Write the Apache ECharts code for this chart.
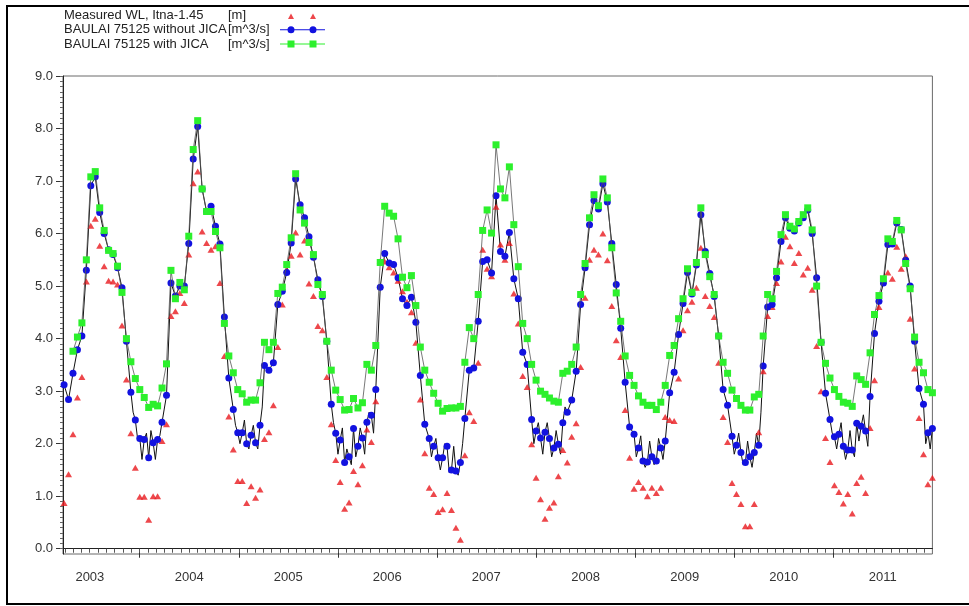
<!DOCTYPE html>
<html>
<head>
<meta charset="utf-8">
<script src="https://cdn.jsdelivr.net/npm/echarts@6/dist/echarts.min.js"></script>
<style>
html,body{margin:0;padding:0;background:#fff;}
#chart{width:969px;height:606px;}
</style>
</head>
<body>
<div id="chart"></div>
<script>
// ---------------- data ----------------
const seriesNames = ['Measured WL, Itna-1.45', 'BAULAI 75125 without JICA', 'BAULAI 75125 with JICA'];
const seriesUnits = ['[m]', '[m^3/s]', '[m^3/s]'];
const yearLabels = [2003, 2004, 2005, 2006, 2007, 2008, 2009, 2010, 2011];
const yTickLabels = [0, 1, 2, 3, 4, 5, 6, 7, 8, 9];

// sampling: regular interval from first to last observation date
const firstDate = [2003, 2, 29];
const lastDate = [2012, 0, 1];

const measuredWL = [
  0.87, 1.42, 2.18, 2.88, 3.27, 5.09, 6.15, 6.28, 5.77, 5.38,
  5.10, 5.09, 5.03, 4.25, 3.22, 2.20, 1.54, 0.99, 0.99, 0.55,
  1.00, 1.00, 2.05, 2.37, 4.43, 4.52, 4.87, 4.68, 5.60, 6.96,
  7.18, 6.04, 5.82, 5.69, 5.76, 5.06, 3.67, 2.52, 1.89, 1.29,
  1.29, 0.87, 1.19, 0.97, 1.13, 2.09, 2.22, 2.73, 3.84, 4.65,
  5.31, 5.58, 6.02, 5.60, 5.87, 5.05, 4.81, 4.24, 4.16, 3.27,
  2.37, 1.69, 1.27, 0.76, 0.88, 1.48, 1.23, 1.59, 2.27, 2.03,
  2.81, 5.48, 5.47, 5.36, 5.26, 5.10, 4.90, 4.70, 4.50, 3.92,
  2.84, 1.82, 1.16, 1.04, 0.70, 0.75, 1.06, 0.74, 0.40, 0.17,
  1.78, 2.60, 2.43, 3.54, 5.69, 5.33, 5.19, 6.51, 5.79, 5.50,
  5.82, 4.86, 4.29, 3.29, 3.08, 1.99, 1.35, 0.94, 0.57, 0.78,
  0.88, 1.38, 1.88, 1.64, 2.13, 2.39, 3.46, 4.78, 5.50, 5.69,
  5.60, 6.00, 5.49, 4.62, 3.97, 3.65, 2.64, 1.73, 1.14, 1.27,
  1.16, 1.00, 1.16, 1.06, 1.16, 2.51, 2.45, 2.43, 3.24, 4.16,
  4.54, 4.70, 4.97, 5.73, 4.81, 4.62, 4.41, 3.54, 2.51, 2.03,
  1.25, 1.04, 0.85, 0.43, 0.43, 0.85, 2.22, 3.38, 4.43, 4.60,
  5.06, 5.47, 5.94, 5.76, 5.44, 5.63, 5.22, 5.35, 4.93, 3.86,
  3.00, 2.11, 1.65, 1.21, 1.08, 0.86, 1.04, 0.67, 1.25, 1.37,
  1.06, 2.30, 3.21, 4.60, 5.10, 5.26, 5.14, 5.75, 5.33, 5.57,
  4.38, 3.43, 2.49, 1.80, 1.23, 1.35
];

const withoutJICA = [
  3.12, 2.84, 3.34, 3.79, 4.05, 5.30, 6.91, 7.08, 6.40, 6.00,
  5.69, 5.60, 5.35, 4.97, 3.95, 2.98, 2.45, 2.10, 2.08, 1.73,
  2.02, 2.08, 2.41, 2.92, 5.06, 4.81, 5.00, 5.00, 5.81, 7.42,
  8.04, 6.85, 6.42, 6.52, 6.14, 5.80, 4.41, 3.25, 2.65, 2.21,
  2.21, 2.00, 2.16, 2.02, 2.35, 3.49, 3.40, 3.54, 4.65, 4.90,
  5.26, 5.82, 7.04, 6.55, 6.30, 5.94, 5.55, 5.12, 4.80, 3.95,
  2.75, 2.20, 2.07, 1.64, 1.75, 2.29, 1.95, 2.11, 2.41, 2.54,
  3.03, 4.98, 5.62, 5.44, 5.41, 5.16, 4.76, 4.63, 4.79, 4.31,
  3.30, 2.37, 2.10, 1.95, 1.73, 1.73, 1.95, 1.50, 1.48, 1.64,
  2.48, 3.40, 3.44, 4.33, 5.47, 5.50, 5.25, 6.72, 5.66, 5.57,
  6.02, 5.14, 4.76, 3.74, 3.51, 2.46, 2.24, 2.11, 2.22, 2.10,
  1.92, 1.99, 2.40, 2.60, 2.83, 3.38, 4.65, 5.35, 6.17, 6.63,
  6.47, 6.95, 6.60, 5.81, 5.03, 4.20, 3.17, 2.32, 2.18, 1.92,
  1.67, 1.65, 1.75, 1.67, 1.92, 2.05, 2.97, 3.36, 4.08, 4.67,
  5.26, 4.85, 5.40, 6.36, 5.66, 5.24, 4.80, 4.05, 3.03, 2.73,
  2.14, 1.97, 1.83, 1.64, 1.75, 1.83, 1.97, 3.48, 4.60, 4.65,
  5.16, 5.85, 6.30, 6.10, 6.05, 6.20, 6.30, 6.45, 6.00, 5.16,
  3.93, 2.96, 2.46, 2.13, 2.18, 1.95, 1.88, 1.88, 2.39, 2.33,
  2.24, 2.90, 4.10, 4.71, 5.06, 5.79, 5.80, 6.20, 6.08, 5.49,
  5.00, 3.95, 3.05, 2.75, 2.21, 2.29
];

// extra readings of the fluctuating (daily) line between samples: [sample position, value]
const withoutJICAFluctuation = [
  [15.5, 2.60], [16.5, 2.10], [17.5, 1.70], [18.5, 2.20], [19.5, 2.25], [20.5, 1.70], [21.5, 2.15],
  [38.5, 2.35], [39.5, 2.00], [40.5, 2.45], [41.5, 1.90], [42.5, 2.35], [43.5, 1.90], [44.5, 2.70],
  [60.5, 2.40], [61.5, 1.80], [62.5, 2.30], [63.5, 1.90], [64.5, 1.60], [65.5, 1.75], [66.5, 2.30], [67.5, 1.80], [68.5, 2.60], [69.5, 2.20],
  [82.5, 1.75], [83.5, 2.10], [84.5, 1.50], [85.5, 2.00], [86.5, 1.45], [87.5, 1.95], [88.5, 1.40], [89.5, 2.00],
  [105.5, 2.00], [106.5, 2.40], [107.5, 1.80], [108.5, 2.40], [109.5, 1.75], [110.5, 2.25], [111.5, 1.80], [112.5, 2.70],
  [128.5, 1.75], [129.5, 2.15], [130.5, 1.55], [131.5, 2.05], [132.5, 1.60], [133.5, 2.10], [134.5, 1.70],
  [150.5, 1.80], [151.5, 2.20], [152.5, 1.60], [153.5, 2.05], [154.5, 1.55], [155.5, 2.20], [156.5, 2.60],
  [172.5, 2.20], [173.5, 1.90], [174.5, 2.40], [175.5, 1.70], [176.5, 2.25], [177.5, 1.75], [178.5, 2.05], [179.5, 2.55], [180.5, 1.95],
  [193.5, 2.00], [194.5, 1.90]
];

const withJICA = [
  null, null, 3.76, 4.03, 4.30, 5.50, 7.08, 7.18, 6.49, 6.06,
  5.68, 5.62, 5.38, 4.88, 4.00, 3.56, 3.24, 3.03, 2.88, 2.69,
  2.75, 2.72, 3.06, 3.52, 5.30, 4.76, 5.07, 4.93, 5.95, 7.60,
  8.15, 6.85, 6.42, 6.42, 6.04, 5.73, 4.29, 3.67, 3.35, 3.03,
  2.95, 2.79, 2.83, 2.83, 3.16, 3.93, 3.79, 3.93, 4.86, 4.98,
  5.41, 5.92, 7.14, 6.45, 6.20, 5.83, 5.60, 5.03, 4.84, 3.95,
  3.40, 3.02, 2.84, 2.64, 2.65, 2.86, 2.68, 2.78, 3.51, 3.40,
  3.87, 5.45, 6.52, 6.39, 6.33, 5.90, 5.17, 4.97, 5.20, 4.63,
  3.84, 3.40, 3.17, 2.96, 2.77, 2.62, 2.67, 2.68, 2.68, 2.71,
  3.55, 4.21, 4.00, 4.84, 6.06, 6.45, 6.01, 7.69, 6.85, 6.68,
  7.27, 6.17, 5.37, 4.29, 4.00, 3.51, 3.21, 3.00, 2.94, 2.87,
  2.81, 2.79, 3.34, 3.38, 3.51, 3.84, 4.84, 5.43, 6.30, 6.74,
  6.53, 7.04, 6.68, 5.73, 4.87, 4.33, 3.67, 3.30, 3.11, 2.91,
  2.79, 2.73, 2.73, 2.65, 2.79, 3.11, 3.68, 3.87, 4.38, 4.76,
  5.33, 4.88, 5.45, 6.49, 5.60, 5.18, 4.84, 4.05, 3.55, 3.34,
  3.02, 2.86, 2.73, 2.64, 2.64, 2.89, 2.94, 4.05, 4.84, 4.76,
  5.28, 5.98, 6.36, 6.14, 6.09, 6.23, 6.36, 6.49, 6.07, 5.00,
  3.93, 3.53, 3.25, 3.03, 2.90, 2.79, 2.77, 2.71, 3.29, 3.22,
  3.13, 3.73, 4.46, 4.82, 5.14, 5.90, 5.85, 6.25, 6.07, 5.43,
  4.95, 4.03, 3.55, 3.35, 3.03, 2.97
];

// ---------------- build ----------------
const FONT = '"Liberation Sans", Arial, sans-serif';
const t0 = Date.UTC.apply(null, firstDate);
const t1 = Date.UTC.apply(null, lastDate);
const nSamples = measuredWL.length;
const dateAt = pos => t0 + (t1 - t0) * pos / (nSamples - 1);
const dates = measuredWL.map((_, i) => dateAt(i));
const xMin = Date.UTC(2003, 2, 25);
const xMax = Date.UTC(2012, 0, 1);

const yearTicks = yearLabels.slice(1).map(y => Date.UTC(y, 0, 1));
const yearLabelPos = yearLabels.map(y => Date.UTC(y, 6, 2));
const monthTicks = [];
yearLabels.forEach(y => { for (let m = 0; m < 12; m++) { const t = Date.UTC(y, m, 1); if (t > xMin && t < xMax) monthTicks.push(t); } });
const yMinorTicks = [];
for (let i = 0; i <= 90; i++) yMinorTicks.push(i / 10);

const pair = arr => arr.map((v, i) => [dates[i], v]);
const detailLine = withoutJICA.map((v, i) => [i, v])
  .concat(withoutJICAFluctuation)
  .sort((a, b) => a[0] - b[0])
  .map(p => [dateAt(p[0]), p[1]]);

const EXT = 'M0,0L0,0.01M45,9L45,8.99';
const iconRed = 'path://' + EXT + 'M8,8L11,2.5L14,8ZM30,8L33,2.5L36,8Z';
const iconBlue = 'path://' + EXT + 'M0,4L45,4L45,5L0,5Z' +
  'M14.5,4.5A3.5,3.5,0,1,1,7.5,4.5A3.5,3.5,0,1,1,14.5,4.5Z' +
  'M36.5,4.5A3.5,3.5,0,1,1,29.5,4.5A3.5,3.5,0,1,1,36.5,4.5Z';
const iconGreen = 'path://' + EXT + 'M0,4L45,4L45,5L0,5Z' +
  'M7.5,1L14.5,1L14.5,8L7.5,8Z' +
  'M29.5,1L36.5,1L36.5,8L29.5,8Z';

const RED = '#e8191e', BLUE = '#1212e0', GREEN = '#2cf02c';

const chart = echarts.init(document.getElementById('chart'), null, { renderer: 'canvas' });
chart.setOption({
  animation: false,
  backgroundColor: '#ffffff',
  textStyle: { fontFamily: FONT },
  graphic: [{
    type: 'rect', silent: true, z: 100,
    shape: { x: 7, y: 6, width: 1000, height: 598 },
    style: { fill: 'none', stroke: '#000', lineWidth: 2 }
  }],
  legend: {
    left: 64, top: 9, padding: 0, orient: 'vertical', align: 'right',
    itemGap: 1.3, itemWidth: 45, itemHeight: 9, selectedMode: false,
    itemStyle: { borderWidth: 0 },
    symbolKeepAspect: true,
    data: [
      { name: seriesNames[0], icon: iconRed },
      { name: seriesNames[1], icon: iconBlue },
      { name: seriesNames[2], icon: iconGreen }
    ],
    formatter: name => '{a|' + name + '}{b|' + seriesUnits[seriesNames.indexOf(name)] + '}',
    textStyle: {
      fontFamily: FONT, fontSize: 13, color: '#222',
      rich: {
        a: { width: 164, align: 'left', fontFamily: FONT, fontSize: 13, color: '#222' },
        b: { width: 47, align: 'left', fontFamily: FONT, fontSize: 13, color: '#222' }
      }
    }
  },
  grid: {
    left: 63, right: 36.6, top: 76, bottom: 52,
    show: true, borderColor: '#6a6a6a', borderWidth: 1, backgroundColor: '#fff',
    containLabel: false, outerBoundsMode: 'none'
  },
  xAxis: [{
    type: 'value', min: xMin, max: xMax, position: 'bottom',
    axisLine: { show: true, lineStyle: { color: '#222', width: 1 } },
    axisTick: { show: true, customValues: yearTicks, length: 9, lineStyle: { color: '#333' } },
    axisLabel: {
      customValues: yearLabelPos, margin: 17,
      formatter: v => String(new Date(v).getUTCFullYear()),
      fontFamily: FONT, fontSize: 13, color: '#333'
    },
    splitLine: { show: false }
  }, {
    type: 'value', min: xMin, max: xMax, position: 'bottom',
    axisLine: { show: false },
    axisTick: { show: true, customValues: monthTicks, length: 4, lineStyle: { color: '#555' } },
    axisLabel: { show: false },
    splitLine: { show: false }
  }],
  yAxis: [{
    type: 'value', min: -0.1, max: 9, position: 'left',
    axisLine: { show: true, lineStyle: { color: '#222', width: 1 } },
    axisTick: { show: true, customValues: yTickLabels, length: 7, lineStyle: { color: '#333' } },
    axisLabel: {
      customValues: yTickLabels, margin: 10,
      formatter: v => Number(v).toFixed(1),
      fontFamily: FONT, fontSize: 13, color: '#333'
    },
    splitLine: { show: false }
  }, {
    type: 'value', min: -0.1, max: 9, position: 'left',
    axisLine: { show: false },
    axisTick: { show: true, customValues: yMinorTicks, length: 3, lineStyle: { color: '#666' } },
    axisLabel: { show: false },
    splitLine: { show: false }
  }],
  series: [{
    name: seriesNames[0], type: 'scatter', xAxisIndex: 0, yAxisIndex: 0,
    data: pair(measuredWL),
    symbol: 'triangle', symbolSize: [7, 6],
    itemStyle: { color: RED, borderWidth: 0 },
    z: 3
  }, {
    name: 'detail', type: 'line', xAxisIndex: 0, yAxisIndex: 0,
    data: detailLine, symbol: 'none',
    lineStyle: { color: '#111', width: 1 },
    tooltip: { show: false },
    z: 3
  }, {
    name: seriesNames[1], type: 'line', xAxisIndex: 0, yAxisIndex: 0,
    data: pair(withoutJICA),
    symbol: 'circle', symbolSize: 7, showSymbol: true,
    itemStyle: { color: BLUE, borderWidth: 0 },
    lineStyle: { width: 0, opacity: 0 },
    z: 4
  }, {
    name: seriesNames[2], type: 'line', xAxisIndex: 0, yAxisIndex: 0,
    data: pair(withJICA),
    symbol: 'rect', symbolSize: 7, showSymbol: true, connectNulls: false,
    itemStyle: { color: GREEN, borderWidth: 0 },
    lineStyle: { color: '#555', width: 0.8 },
    z: 5
  }]
});
</script>
</body>
</html>
